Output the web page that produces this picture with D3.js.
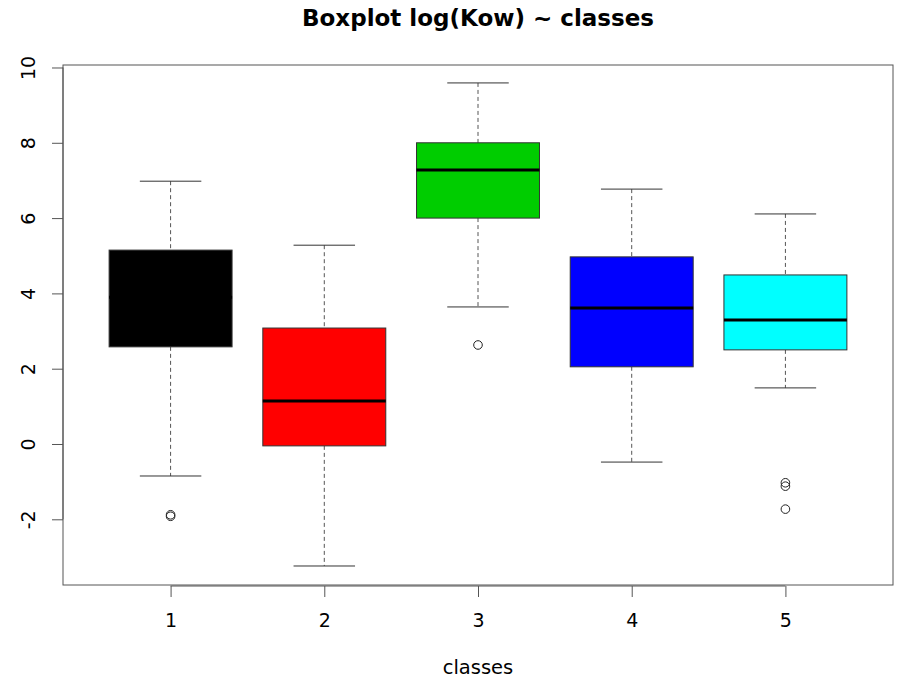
<!DOCTYPE html>
<html>
<head>
<meta charset="utf-8">
<script src="https://cdn.jsdelivr.net/npm/d3@7"></script>
<style>
  html, body { margin: 0; padding: 0; background: #fff; }
  svg { display: block; }
  text { font-family: "DejaVu Sans", sans-serif; fill: #000; }
</style>
</head>
<body>
<svg id="chart" width="899" height="679"></svg>
<script>
// ---- data ----
const categories = ["1", "2", "3", "4", "5"];
const colors = ["#000000", "#FF0000", "#00CD00", "#0000FF", "#00FFFF"];
const whiskerLow  = [-0.85, -3.24, 3.64, -0.48, 1.49];
const q1          = [2.58, -0.05, 6.00, 2.05, 2.50];
const median      = [3.90, 1.14, 7.28, 3.61, 3.29];
const q3          = [5.15, 3.08, 8.00, 4.97, 4.49];
const whiskerHigh = [6.98, 5.28, 9.59, 6.77, 6.11];
const outliers    = [[-1.88, -1.92], [], [2.63], [], [-1.03, -1.12, -1.73]];
const yTicks = [-2, 0, 2, 4, 6, 8, 10];
const yTickLabels = ["-2", "0", "2", "4", "6", "8", "10"];
const yDomain = [-3.745, 10.066];
const xDomain = [0.3, 5.7];
const title = "Boxplot log(Kow) ~ classes";
const xLabel = "classes";

// ---- layout ----
const svg = d3.select("#chart");
const L = 63, R = 893, T = 65, B = 585;
const x = d3.scaleLinear().domain(xDomain).range([L, R]);
const y = d3.scaleLinear().domain(yDomain).range([B, T]);
const boxW = x(0.8) - x(0);
const capW = boxW / 2;

const g = svg.append("g");

categories.forEach((c, i) => {
  const cx = x(i + 1);
  // whiskers (dashed)
  g.append("line").attr("x1", cx).attr("x2", cx)
    .attr("y1", y(whiskerHigh[i])).attr("y2", y(q3[i]))
    .attr("stroke", "#555").attr("stroke-width", 1).attr("stroke-dasharray", "4,3");
  g.append("line").attr("x1", cx).attr("x2", cx)
    .attr("y1", y(q1[i])).attr("y2", y(whiskerLow[i]))
    .attr("stroke", "#555").attr("stroke-width", 1).attr("stroke-dasharray", "4,3");
  // caps
  [whiskerHigh[i], whiskerLow[i]].forEach(v => {
    g.append("line").attr("x1", cx - capW / 2).attr("x2", cx + capW / 2)
      .attr("y1", y(v)).attr("y2", y(v))
      .attr("stroke", "#333").attr("stroke-width", 1);
  });
  // box
  g.append("rect")
    .attr("x", cx - boxW / 2).attr("width", boxW)
    .attr("y", y(q3[i])).attr("height", y(q1[i]) - y(q3[i]))
    .attr("fill", colors[i]).attr("stroke", "#333").attr("stroke-width", 1);
  // median
  g.append("line").attr("x1", cx - boxW / 2).attr("x2", cx + boxW / 2)
    .attr("y1", y(median[i])).attr("y2", y(median[i]))
    .attr("stroke", "#000").attr("stroke-width", 3);
  // outliers
  outliers[i].forEach(v => {
    g.append("circle").attr("cx", cx).attr("cy", y(v)).attr("r", 4.3)
      .attr("fill", "none").attr("stroke", "#222").attr("stroke-width", 1);
  });
});

// frame
svg.append("rect").attr("x", L).attr("y", T).attr("width", R - L).attr("height", B - T)
  .attr("fill", "none").attr("stroke", "#555").attr("stroke-width", 1);

// y axis
const yAxis = d3.axisLeft(y).tickValues(yTicks).tickSize(11).tickSizeOuter(0)
  .tickFormat((d, i) => yTickLabels[i]);
const ya = svg.append("g").attr("transform", `translate(${L},0)`).call(yAxis);
ya.select(".domain").attr("d", `M0,${y(yTicks[0])}V${y(yTicks[yTicks.length - 1])}`).attr("stroke", "#555");
ya.selectAll(".tick line").attr("stroke", "#555");
ya.selectAll(".tick text")
  .attr("x", null).attr("dy", null)
  .attr("transform", "translate(-28,0) rotate(-90)")
  .attr("text-anchor", "middle")
  .style("font-family", "DejaVu Sans, sans-serif")
  .style("font-size", "19px").attr("fill", "#000");

// x axis
const xAxis = d3.axisBottom(x).tickValues([1, 2, 3, 4, 5]).tickSize(11).tickSizeOuter(0)
  .tickFormat((d) => categories[d - 1]);
const xa = svg.append("g").attr("transform", `translate(0,${B + 1})`).call(xAxis);
xa.select(".domain").attr("d", `M${x(1)},0H${x(5)}`).attr("stroke", "#555");
xa.selectAll(".tick line").attr("stroke", "#555");
xa.selectAll(".tick text")
  .attr("y", 41).attr("dy", null)
  .style("font-family", "DejaVu Sans, sans-serif")
  .style("font-size", "19px").attr("fill", "#000");

// title
svg.append("text").attr("x", (L + R) / 2).attr("y", 26)
  .attr("text-anchor", "middle")
  .style("font-size", "23px").style("font-weight", "bold")
  .text(title);

// x label
svg.append("text").attr("x", (L + R) / 2).attr("y", 674)
  .attr("text-anchor", "middle")
  .style("font-size", "19.5px")
  .text(xLabel);
</script>
</body>
</html>
